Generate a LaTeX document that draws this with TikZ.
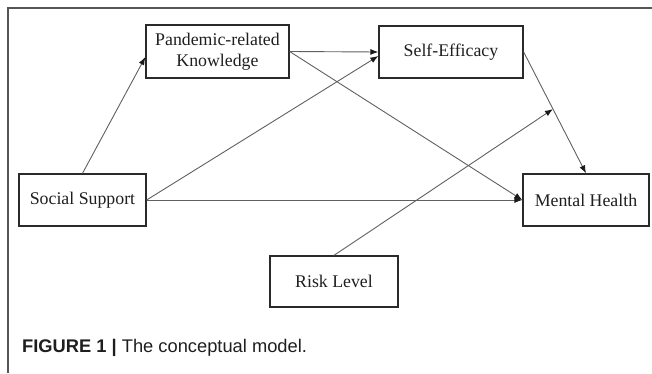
\documentclass[tikz,border=0pt]{standalone}
\usepackage{fontspec}
\setmainfont{Liberation Serif}
\newfontfamily\capfont{Liberation Sans}
\usetikzlibrary{arrows.meta,calc}
\definecolor{boxline}{HTML}{2A2A2A}
\definecolor{arrline}{HTML}{606060}
\definecolor{tipcol}{HTML}{1A1A1A}
\definecolor{frameline}{HTML}{555555}
\definecolor{txt}{HTML}{1E1E1E}
\begin{document}
\begin{tikzpicture}[x=1pt,y=-1pt,
  varbox/.style={draw=boxline,line width=1.3pt,rectangle,inner sep=0pt,
    text=txt,font=\fontsize{17.8}{20.5}\selectfont,align=center},
  conn/.style={draw=arrline,line width=0.9pt,-{Latex[length=8pt,width=6pt,color=tipcol]}},
  frame/.style={draw=frameline,line width=1.3pt}]
\useasboundingbox (0,0) rectangle (652,373);
\draw[frame] (8,373) -- (8,8) -- (652,8);
\node[varbox,minimum width=143pt,minimum height=53pt] (PK) at (217.5,51.5) {Pandemic-related\\Knowledge};
\node[varbox,minimum width=144pt,minimum height=52pt] (SE) at (451,52) {Self-Efficacy};
\node[varbox,minimum width=127pt,minimum height=52pt] (SS) at (82.5,200) {Social Support};
\node[varbox,minimum width=126pt,minimum height=52pt] (MH) at (586,200) {Mental Health};
\node[varbox,minimum width=128pt,minimum height=51pt] (RL) at (334,281.5) {Risk Level};
\coordinate (MOD) at ($(SE.east)!0.47!(MH.north)$);
\draw[conn] (SS.north) -- ([yshift=-5.5pt]PK.west);
\draw[conn] (PK.east) -- (SE.west);
\draw[conn] (SS.east) -- ([yshift=-4pt]SE.west);
\draw[conn] (PK.east) -- (MH.west);
\draw[conn] (SS.east) -- (MH.west);
\draw[conn] (SE.east) -- (MH.north);
\draw[conn] (RL.north) -- (MOD);
\node[anchor=base west,inner sep=0pt,text=txt,font=\capfont\fontsize{18.3}{20}\selectfont] (CAP) at (22,352) {\textbf{FIGURE 1 |} The conceptual model.};
\end{tikzpicture}
\end{document}
